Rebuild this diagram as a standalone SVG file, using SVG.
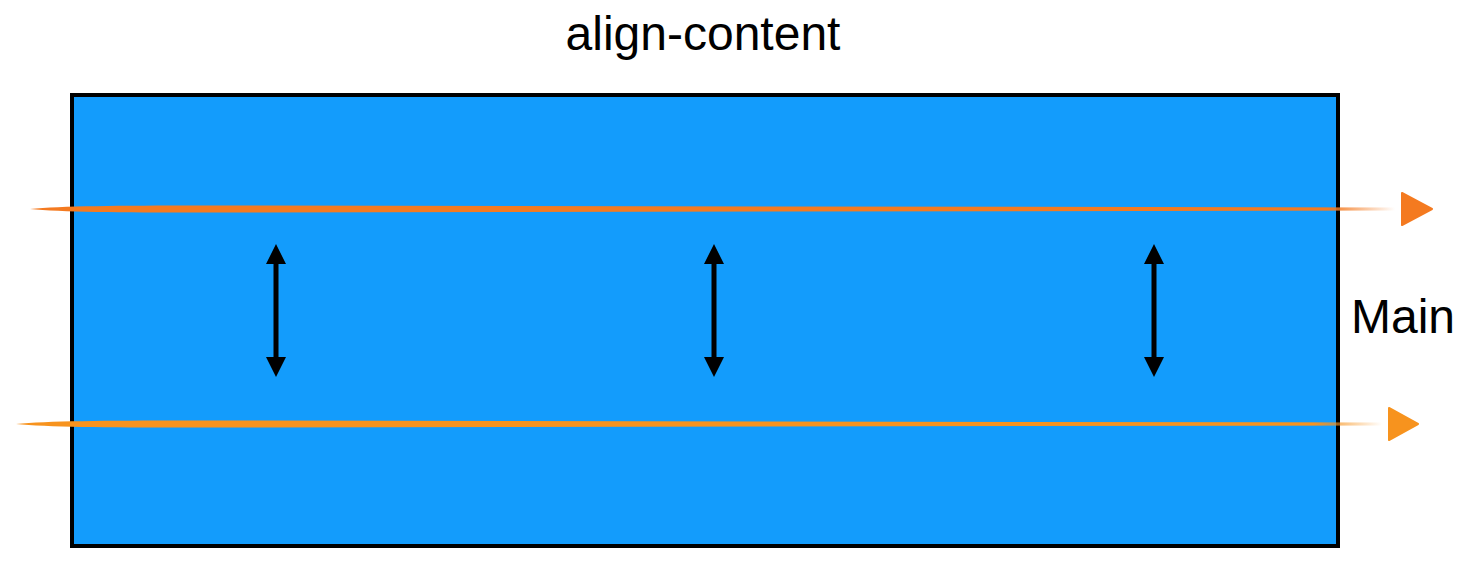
<svg xmlns="http://www.w3.org/2000/svg" width="1477" height="587" viewBox="0 0 1477 587">
<style>
.lbl{font-family:"Liberation Sans",Arial,sans-serif;font-size:48px;fill:#000}
.dbl{stroke:#000;stroke-width:5;fill:none}
</style>
<defs>
<linearGradient id="g1" x1="30" y1="0" x2="1395" y2="0" gradientUnits="userSpaceOnUse">
<stop offset="0" stop-color="#F47A20"/>
<stop offset="0.95" stop-color="#F47A20"/>
<stop offset="1" stop-color="#F47A20" stop-opacity="0"/>
</linearGradient>
<linearGradient id="g2" x1="16" y1="0" x2="1382" y2="0" gradientUnits="userSpaceOnUse">
<stop offset="0" stop-color="#F7931E"/>
<stop offset="0.95" stop-color="#F7931E"/>
<stop offset="1" stop-color="#F7931E" stop-opacity="0"/>
</linearGradient>
</defs>
<g id="title"><text class="lbl" x="703" y="50" text-anchor="middle">align-content</text></g>
<g id="container">
<rect x="72" y="95" width="1266" height="451" fill="#139CFC" stroke="#000" stroke-width="4"/>
</g>
<g id="main-label"><text class="lbl" x="1351" y="333">Main</text></g>
<g id="connectors">
<path d="M30,209 C60,206 120,205.5 200,205.5 L1395,207.5 L1395,210.5 L200,212.5 C120,212.5 60,212 30,209 Z" fill="url(#g1)"/>
<path d="M1402,193 L1432,209 L1402,225 Z" fill="#F47A20" stroke="#F47A20" stroke-width="2" stroke-linejoin="round"/>
<path d="M16,424 C46,421 106,420.5 186,420.5 L1382,422.5 L1382,425.5 L186,427.5 C106,427.5 46,427 16,424 Z" fill="url(#g2)"/>
<path d="M1389,408 L1418,424 L1389,440 Z" fill="#F7931E" stroke="#F7931E" stroke-width="2" stroke-linejoin="round"/>
<line class="dbl" x1="276" y1="264" x2="276" y2="357"/>
<path d="M266,264 L276,244 L286,264 Z M266,357 L276,377 L286,357 Z" fill="#000"/>
<line class="dbl" x1="714" y1="264" x2="714" y2="357"/>
<path d="M704,264 L714,244 L724,264 Z M704,357 L714,377 L724,357 Z" fill="#000"/>
<line class="dbl" x1="1154" y1="264" x2="1154" y2="357"/>
<path d="M1144,264 L1154,244 L1164,264 Z M1144,357 L1154,377 L1164,357 Z" fill="#000"/>
</g>
</svg>
